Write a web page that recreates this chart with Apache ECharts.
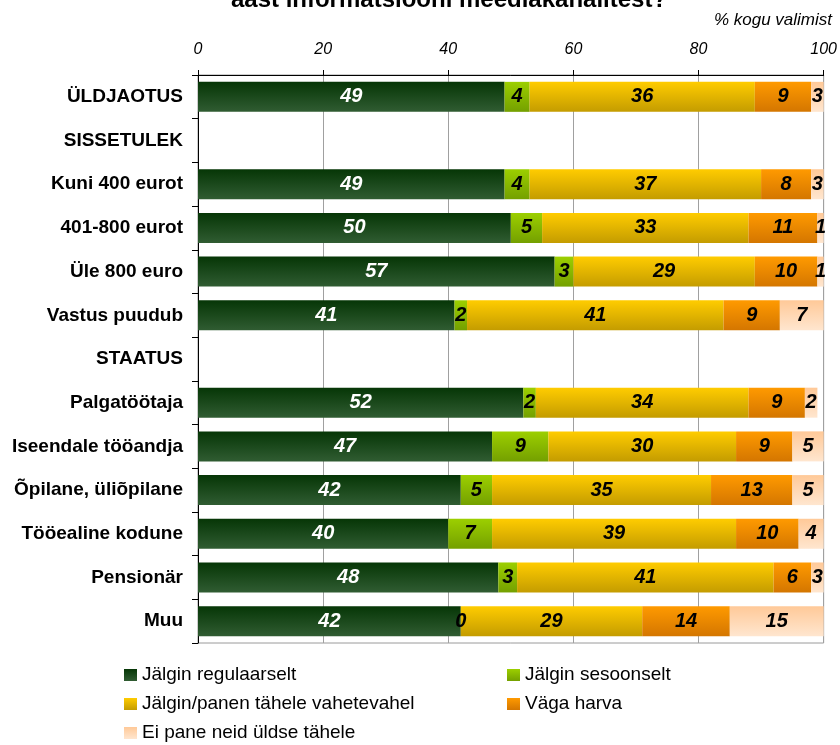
<!DOCTYPE html>
<html>
<head>
<meta charset="utf-8">
<script src="https://cdn.jsdelivr.net/npm/echarts@6/dist/echarts.min.js"></script>
<style>
  html, body { margin: 0; padding: 0; background: #fff; }
  #chart { width: 840px; height: 745px; }
</style>
</head>
<body>
<div id="chart"></div>
<script>
// Row labels (two rows are section headings without data)
var categories = [
  'ÜLDJAOTUS', 'SISSETULEK', 'Kuni 400 eurot', '401-800 eurot', 'Üle 800 euro',
  'Vastus puudub', 'STAATUS', 'Palgatöötaja', 'Iseendale tööandja',
  'Õpilane, üliõpilane', 'Tööealine kodune', 'Pensionär', 'Muu'
];

// Shares of respondents, % of total sample
var regular    = [49, null, 49, 50, 57, 41, null, 52, 47, 42, 40, 48, 42];
var seasonal   = [4,  null, 4,  5,  3,  2,  null, 2,  9,  5,  7,  3,  0];
var occasional = [36, null, 37, 33, 29, 41, null, 34, 30, 35, 39, 41, 29];
var rarely     = [9,  null, 8,  11, 10, 9,  null, 9,  9,  13, 10, 6,  14];
var never      = [3,  null, 3,  1,  1,  7,  null, 2,  5,  5,  4,  3,  15];

var seriesNames = [
  'Jälgin regulaarselt',
  'Jälgin sesoonselt',
  'Jälgin/panen tähele vahetevahel',
  'Väga harva',
  'Ei pane neid üldse tähele'
];

var xTicks = { min: 0, max: 100, step: 20 };

var FONT = '"Liberation Sans", Arial, sans-serif';

function grad(top, bottom) {
  return new echarts.graphic.LinearGradient(0, 0, 0, 1, [
    { offset: 0, color: top },
    { offset: 1, color: bottom }
  ]);
}

var fills = [
  grad('#063606', '#305c32'),
  grad('#9ccf00', '#74a000'),
  grad('#ffcc00', '#c49c00'),
  grad('#ff9a00', '#d47600'),
  grad('#ffc998', '#ffe6cf')
];

var values = [regular, seasonal, occasional, rarely, never];

var series = values.map(function (arr, i) {
  return {
    name: seriesNames[i],
    type: 'bar',
    stack: 'total',
    barWidth: 30,
    data: arr,
    itemStyle: { color: fills[i] },
    label: {
      show: true,
      position: 'inside',
      formatter: '{c}',
      fontFamily: FONT,
      fontSize: 20,
      fontWeight: 'bold',
      fontStyle: 'italic',
      color: i === 0 ? '#ffffff' : '#000000'
    },
    emphasis: { disabled: true }
  };
});

// Legend placed as a two-column block under the plot
var legendSlots = [
  { left: 124, top: 665.5 },
  { left: 507, top: 665.5 },
  { left: 124, top: 694.5 },
  { left: 507, top: 694.5 },
  { left: 124, top: 723.5 }
];

var legends = seriesNames.map(function (name, i) {
  return {
    left: legendSlots[i].left,
    top: legendSlots[i].top,
    padding: 0,
    itemWidth: 13,
    itemHeight: 12,
    icon: 'rect',
    data: [name],
    textStyle: { fontFamily: FONT, fontSize: 19, lineHeight: 19, color: '#000' },
    selectedMode: false
  };
});

var chart = echarts.init(document.getElementById('chart'), null, { renderer: 'canvas' });

chart.setOption({
  animation: false,
  backgroundColor: '#ffffff',
  textStyle: { fontFamily: FONT },
  grid: {
    left: 198, right: 14, top: 75, height: 568,
    show: true, borderColor: '#9a9a9a', borderWidth: 1
  },
  xAxis: {
    type: 'value',
    position: 'top',
    min: xTicks.min,
    max: xTicks.max,
    interval: xTicks.step,
    axisLine: { show: true, lineStyle: { color: '#000', width: 1 } },
    axisTick: { show: true, length: 5, lineStyle: { color: '#000' } },
    axisLabel: {
      margin: 17,
      fontFamily: FONT,
      fontSize: 16,
      fontStyle: 'italic',
      color: '#000'
    },
    splitLine: { show: true, lineStyle: { color: '#a0a0a0', width: 1 } }
  },
  yAxis: {
    type: 'category',
    inverse: true,
    data: categories,
    axisLine: { show: true, lineStyle: { color: '#000', width: 1 } },
    axisTick: { show: true, length: 6, lineStyle: { color: '#000' } },
    axisLabel: {
      margin: 15,
      fontFamily: FONT,
      fontSize: 19,
      fontWeight: 'bold',
      color: '#000'
    },
    splitLine: { show: false }
  },
  legend: legends,
  graphic: [
    {
      type: 'text',
      x: 449,
      y: 0,
      style: {
        text: 'aast informatsiooni meediakanalitest?',
        font: 'bold 24px ' + FONT,
        fill: '#000',
        textAlign: 'center',
        textVerticalAlign: 'middle'
      }
    },
    {
      type: 'text',
      x: 832,
      y: 20,
      style: {
        text: '% kogu valimist',
        font: 'italic 17px ' + FONT,
        fill: '#000',
        textAlign: 'right',
        textVerticalAlign: 'middle'
      }
    }
  ],
  series: series
});
</script>
</body>
</html>
